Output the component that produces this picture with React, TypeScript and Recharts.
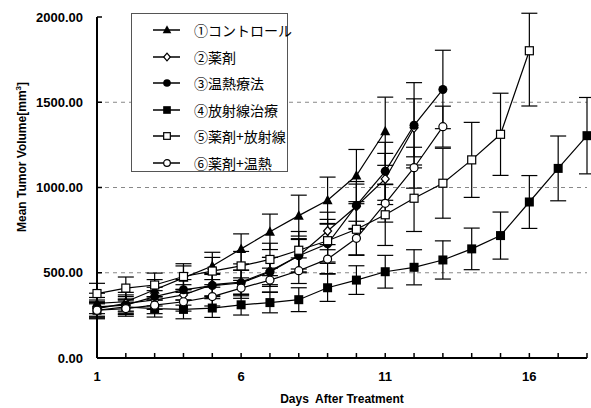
import React from "react";
import {
  LineChart, Line, XAxis, YAxis, CartesianGrid, ErrorBar,
} from "recharts";

const days = [1, 2, 3, 4, 5, 6, 7, 8, 9, 10, 11, 12, 13, 14, 15, 16, 17, 18];
const xLabels = [1, 6, 11, 16];
const yTicks = [0, 500, 1000, 1500, 2000];

const names = ["①コントロール", "②薬剤", "③温熱療法", "④放射線治療", "⑤薬剤+放射線", "⑥薬剤+温熱"];

const control = [320, 330, 400, 470, 540, 640, 740, 835, 925, 1070, 1330];
const drug = [290, 320, 340, 370, 430, 445, 510, 600, 745, 890, 1050, 1350];
const heat = [300, 310, 360, 400, 425, 440, 505, 600, 670, 895, 1095, 1365, 1575];
const radiation = [280, 300, 290, 285, 293, 312, 325, 342, 412, 457, 506, 532, 575, 640, 718, 915, 1112, 1304];
const drugRad = [378, 410, 428, 478, 510, 540, 578, 632, 688, 755, 840, 937, 1025, 1162, 1312, 1802];
const drugHeat = [280, 290, 310, 330, 360, 410, 457, 512, 580, 702, 907, 1116, 1357];

// error bars, [below, above] where the top is cut by the frame
const controlErr = [60, 55, 60, 70, 80, 88, 104, 120, 136, 153, 200];
const drugErr = [50, 50, 55, 60, 65, 70, 80, 95, 110, 130, 150, 170];
const heatErr = [55, 50, 55, 60, 65, 75, 85, 100, 115, 140, 170, 250, 230];
const radiationErr = [45, 45, 50, 55, 55, 60, 60, 70, 80, 84, 96, 103, 112, 122, 138, 155, 190, 224];
const drugRadErr: (number | number[])[] = [60, 65, 70, 75, 80, 85, 95, 110, 125, 150, 180, 195, 205, 220, 241, [324, 220]];
const drugHeatErr = [50, 45, 50, 55, 55, 60, 70, 75, 85, 100, 110, 120, 120];

const series = [control, drug, heat, radiation, drugRad, drugHeat];
const errors = [controlErr, drugErr, heatErr, radiationErr, drugRadErr, drugHeatErr];
const shapes = ["triangle", "diamond", "circleFill", "squareFill", "square", "circle"];

const data = days.map((d, i) => {
  const row: any = { day: d };
  series.forEach((s, k) => {
    row["s" + k] = s[i] ?? null;
    row["e" + k] = errors[k][i] ?? null;
  });
  return row;
});

const font = "'Liberation Sans', Arial, sans-serif";

function Marker({ shape, cx, cy, size = 1 }: { shape: string; cx: number; cy: number; size?: number }) {
  const s = 4.5 * size;
  switch (shape) {
    case "triangle":
      return <polygon points={`${cx},${cy - s - 1} ${cx - s - 0.5},${cy + s - 0.5} ${cx + s + 0.5},${cy + s - 0.5}`} fill="#000" />;
    case "diamond":
      return <polygon points={`${cx},${cy - s} ${cx + s - 0.5},${cy} ${cx},${cy + s} ${cx - s + 0.5},${cy}`} fill="#fff" stroke="#000" strokeWidth={1.2} />;
    case "circleFill":
      return <circle cx={cx} cy={cy} r={s} fill="#000" />;
    case "squareFill":
      return <rect x={cx - s} y={cy - s} width={2 * s} height={2 * s} fill="#000" />;
    case "square":
      return <rect x={cx - s + 0.5} y={cy - s + 0.5} width={2 * s - 1} height={2 * s - 1} fill="#fff" stroke="#000" strokeWidth={1.2} />;
    default:
      return <circle cx={cx} cy={cy} r={s - 0.5} fill="#fff" stroke="#000" strokeWidth={1.2} />;
  }
}

function makeDot(shape: string) {
  return (props: any) => {
    const { cx, cy, value, index } = props;
    if (value == null || cx == null || cy == null) return <g key={index} />;
    return <g key={index}><Marker shape={shape} cx={cx} cy={cy} /></g>;
  };
}

function LegendBox() {
  return (
    <div
      style={{
        position: "absolute",
        left: 131,
        top: 13,
        border: "1px solid #555",
        background: "#fff",
        width: 157,
        height: 159,
        boxSizing: "border-box",
        paddingTop: 3,
        fontFamily: "'Noto Sans CJK JP', 'Noto Sans CJK SC', sans-serif",
        fontSize: 14,
        color: "#000",
      }}
    >
      {names.map((n, k) => (
        <div key={n} style={{ display: "flex", alignItems: "center", height: 26.5 }}>
          <svg width={62} height={20} style={{ flexShrink: 0 }}>
            <line x1={21} y1={10} x2={48} y2={10} stroke="#000" strokeWidth={1.5} />
            <Marker shape={shapes[k]} cx={35} cy={10} size={0.85} />
          </svg>
          <span style={{ lineHeight: "20px", whiteSpace: "nowrap", color: "#000", fontFamily: "'Noto Sans CJK JP', sans-serif" }}>{n}</span>
        </div>
      ))}
    </div>
  );
}

export default function App() {
  return (
    <div style={{ position: "absolute", left: 0, top: 0, width: 591, height: 408, background: "#fff" }}>
      <LineChart width={591} height={408} data={data} margin={{ top: 17, right: 4, left: 12, bottom: 10 }}>
        <CartesianGrid
          vertical={false}
          horizontalValues={[500, 1000, 1500]}
          stroke="#888"
          strokeDasharray="4 4"
        />
        <XAxis
          dataKey="day"
          type="number"
          domain={[1, 18]}
          ticks={days}
          interval={0}
          tickFormatter={(v) => (xLabels.includes(v) ? String(v) : "")}
          tickSize={-5}
          tickMargin={19}
          height={40}
          axisLine={{ stroke: "#000", strokeWidth: 2 }}
          tickLine={{ stroke: "#000", strokeWidth: 1.5 }}
          tick={{ fill: "#000", fontSize: 13, fontFamily: font, fontWeight: "bold" }}
          label={{
            content: () => (
              <text x={342} y={403} textAnchor="middle" fontFamily={font} fontSize={12} fontWeight="bold" fill="#000" style={{ whiteSpace: "pre" }}>
                {"Days  After Treatment"}
              </text>
            ),
          }}
        />
        <YAxis
          type="number"
          domain={[0, 2000]}
          ticks={yTicks}
          allowDataOverflow
          width={85}
          tickSize={-5}
          tickMargin={19}
          tickFormatter={(v) => Number(v).toFixed(2)}
          axisLine={{ stroke: "#000", strokeWidth: 2 }}
          tickLine={{ stroke: "#000", strokeWidth: 1.5 }}
          tick={{ fill: "#000", fontSize: 13, fontFamily: font, fontWeight: "bold" }}
          label={{
            content: () => (
              <text
                x={26}
                y={157}
                transform="rotate(-90 26 157)"
                textAnchor="middle"
                fontFamily={font}
                fontSize={12}
                fontWeight="bold"
                fill="#000"
              >
                Mean Tumor Volume[mm
                <tspan dy={-5} fontSize={8}>3</tspan>
                <tspan dy={5}>]</tspan>
              </text>
            ),
          }}
        />
        {shapes.map((sh, k) => (
          <Line
            key={sh}
            dataKey={"s" + k}
            name={names[k]}
            stroke="#000"
            strokeWidth={1.2}
            dot={makeDot(sh)}
            activeDot={false}
            isAnimationActive={false}
          >
            <ErrorBar dataKey={"e" + k} width={8} stroke="#000" strokeWidth={1.2} />
          </Line>
        ))}
      </LineChart>
      <LegendBox />
    </div>
  );
}
